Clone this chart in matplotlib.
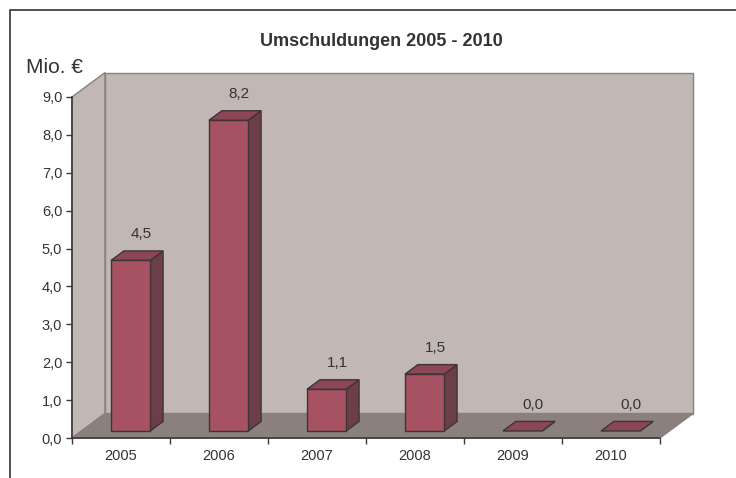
import matplotlib
matplotlib.use("Agg")
import matplotlib.pyplot as plt
from matplotlib.patches import Polygon, Rectangle

plt.rcParams['font.family'] = ['Liberation Sans', 'DejaVu Sans']

years = ['2005', '2006', '2007', '2008', '2009', '2010']
values = [4.5, 8.2, 1.1, 1.5, 0.0, 0.0]
y_ticks = [0, 1, 2, 3, 4, 5, 6, 7, 8, 9]

WALL = '#c1b7b5'
FLOOR = '#8b807e'
EDGE_WALL = '#8a7f7d'
BAR_FRONT = '#a65263'
BAR_TOP = '#8d4655'
BAR_SIDE = '#6e3e48'
BAR_EDGE = '#3b3536'
TXT = '#333333'

# depth of the 3d box in data units
DX, DY = 0.337, 0.646
D0, D1 = 0.29, 0.68     # bar front / back depth fraction
HALF_W = 0.2
BASE = 0.185             # bar foot above the floor front edge
YMAX = 9

fig = plt.figure(figsize=(7.36, 4.78), dpi=100)
ax = fig.add_axes([72 / 736, 40 / 478, 588 / 736, 341 / 478])
ax.set_xlim(0, len(years))
ax.set_ylim(0, YMAX)
ax.patch.set_visible(False)

n = len(years)
# left wall, back wall, floor
ax.add_patch(Polygon([(0, 0), (0, YMAX), (DX, YMAX + DY), (DX, DY)],
                     closed=True, fc=WALL, ec=EDGE_WALL, lw=1, clip_on=False, zorder=1))
ax.add_patch(Polygon([(DX, DY), (DX, YMAX + DY), (n + DX, YMAX + DY), (n + DX, DY)],
                     closed=True, fc=WALL, ec=EDGE_WALL, lw=1, clip_on=False, zorder=1))
ax.add_patch(Polygon([(0, 0), (n, 0), (n + DX, DY), (DX, DY)],
                     closed=True, fc=FLOOR, ec=EDGE_WALL, lw=1, clip_on=False, zorder=1.5))

for i, v in enumerate(values):
    cx = i + 0.5
    fx0 = cx - HALF_W + D0 * DX
    fx1 = cx + HALF_W + D0 * DX
    fy0 = BASE
    fy1 = BASE + v
    bdx = (D1 - D0) * DX
    bdy = (D1 - D0) * DY
    # side
    ax.add_patch(Polygon([(fx1, fy0), (fx1, fy1), (fx1 + bdx, fy1 + bdy), (fx1 + bdx, fy0 + bdy)],
                         closed=True, fc=BAR_SIDE, ec=BAR_EDGE, lw=1, clip_on=False, zorder=3))
    # top
    ax.add_patch(Polygon([(fx0, fy1), (fx1, fy1), (fx1 + bdx, fy1 + bdy), (fx0 + bdx, fy1 + bdy)],
                         closed=True, fc=BAR_TOP, ec=BAR_EDGE, lw=1, clip_on=False, zorder=3))
    # front
    if v > 0:
        ax.add_patch(Rectangle((fx0, fy0), fx1 - fx0, v, fc=BAR_FRONT, ec=BAR_EDGE,
                               lw=1, clip_on=False, zorder=4))
    lab = f"{v:.1f}".replace('.', ',')
    ax.annotate(lab, ((fx0 + fx1 + bdx) / 2, fy1 + bdy), xytext=(3, 12),
                textcoords='offset points', ha='center', va='center',
                fontsize=11, color=TXT, zorder=5)

for s in ['top', 'right']:
    ax.spines[s].set_visible(False)
for s in ['left', 'bottom']:
    ax.spines[s].set_color('#3a3a3a')
    ax.spines[s].set_linewidth(1.2)
    ax.spines[s].set_zorder(6)

ax.set_yticks(y_ticks)
ax.set_yticklabels([f"{t:.1f}".replace('.', ',') for t in y_ticks], fontsize=10.5, color=TXT)
ax.set_xticks(range(n + 1))
ax.set_xticklabels([])
ax.set_xticks([i + 0.5 for i in range(n)], minor=True)
ax.set_xticklabels(years, minor=True, fontsize=10.5, color=TXT)
ax.tick_params(axis='x', which='minor', length=0, pad=8)
ax.tick_params(axis='both', which='major', length=4, width=1, color='#3a3a3a', direction='out')
ax.tick_params(axis='y', pad=3)

fig.text(381 / 736, 1 - 41 / 478, 'Umschuldungen 2005 - 2010', ha='center', va='center',
         fontsize=13, fontweight='bold', color=TXT)
fig.text(26 / 736, 1 - 67 / 478, 'Mio. €', ha='left', va='center', fontsize=15, color=TXT)

# chart frame (only top and left edges are inside the picture)
fig.add_artist(Rectangle((10 / 736, -0.1), 1.2, 1 - 10 / 478 + 0.1, transform=fig.transFigure,
                         fill=False, ec='#333333', lw=1.2))

fig.savefig('out.png', dpi=100)
